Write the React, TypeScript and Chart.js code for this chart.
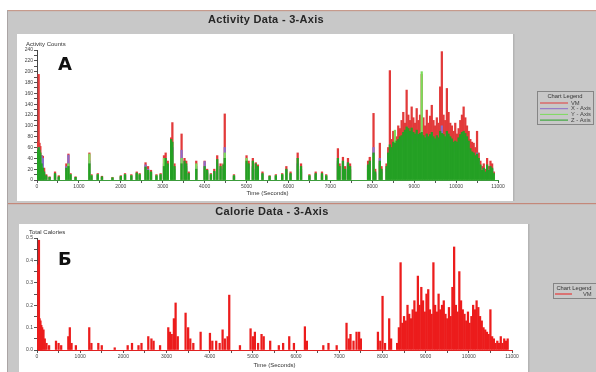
import { useEffect, useRef } from 'react';
import { Chart, registerables } from 'chart.js';

Chart.register(...registerables);

// ---------- Activity data (top chart) ----------
const activitySparseTimes = [20, 40, 60, 80, 110, 140, 170, 220, 300, 430, 520, 700, 750, 800, 920, 1250, 1300, 1450, 1550, 1800, 2000, 2100, 2250, 2380, 2450, 2590, 2650, 2720, 2850, 2950, 3030, 3070, 3120, 3200, 3230, 3280, 3450, 3520, 3560, 3620, 3800, 4000, 4060, 4150, 4230, 4300, 4380, 4450, 4480, 4700, 5000, 5050, 5150, 5220, 5270, 5380, 5550, 5700, 5850, 5950, 6050, 6220, 6300, 6500, 6650, 6800, 6900, 7180, 7220, 7300, 7350, 7420, 7470, 7900, 7940, 8030, 8070, 8180, 8220];
const vmSparse = [70, 195, 68, 62, 45, 44, 22, 10, 6, 15, 8, 30, 48, 12, 6, 50, 10, 12, 7, 5, 8, 12, 10, 15, 12, 32, 25, 18, 10, 12, 45, 50, 35, 78, 106, 30, 85, 40, 35, 15, 35, 35, 20, 12, 20, 45, 30, 30, 122, 10, 45, 35, 40, 32, 28, 15, 8, 10, 12, 25, 15, 50, 30, 10, 15, 15, 10, 58, 30, 42, 25, 40, 30, 35, 42, 123, 20, 68, 25];
const xSparse = [40, 60, 35, 30, 45, 40, 12, 6, 3, 8, 4, 25, 46, 8, 3, 35, 6, 8, 4, 3, 5, 8, 6, 10, 8, 28, 20, 12, 6, 8, 30, 35, 25, 50, 60, 20, 55, 30, 25, 10, 25, 34, 15, 8, 14, 30, 20, 20, 60, 6, 30, 25, 25, 20, 18, 10, 5, 6, 8, 18, 10, 30, 20, 6, 10, 10, 6, 35, 20, 30, 18, 28, 20, 25, 30, 60, 12, 40, 15];
const ySparse = [50, 45, 45, 40, 25, 20, 10, 6, 4, 10, 5, 15, 30, 10, 4, 48, 8, 10, 5, 4, 6, 10, 8, 12, 10, 20, 15, 14, 8, 10, 40, 30, 20, 40, 45, 18, 40, 20, 22, 8, 30, 20, 12, 10, 12, 25, 18, 18, 50, 8, 40, 20, 22, 18, 15, 8, 6, 8, 10, 15, 8, 25, 15, 8, 8, 8, 8, 30, 18, 25, 15, 22, 18, 20, 25, 45, 10, 30, 12];
const zSparse = [55, 60, 55, 50, 30, 22, 15, 8, 5, 12, 6, 22, 25, 10, 5, 30, 8, 10, 6, 4, 7, 10, 8, 13, 10, 24, 18, 15, 8, 10, 25, 40, 30, 75, 70, 25, 30, 35, 30, 12, 20, 25, 18, 10, 16, 38, 25, 28, 40, 8, 35, 30, 35, 30, 25, 12, 7, 8, 10, 20, 12, 40, 25, 8, 12, 12, 8, 40, 25, 35, 20, 32, 25, 28, 35, 50, 15, 35, 20];

const denseTimes = [8340, 8380, 8420, 8460, 8500, 8540, 8580, 8620, 8660, 8700, 8740, 8780, 8820, 8860, 8900, 8940, 8980, 9020, 9060, 9100, 9140, 9180, 9220, 9260, 9300, 9340, 9380, 9420, 9460, 9500, 9540, 9580, 9620, 9660, 9700, 9740, 9780, 9820, 9860, 9900, 9940, 9980, 10020, 10060, 10100, 10140, 10180, 10220, 10260, 10300, 10340, 10380, 10420, 10460, 10500, 10540, 10580, 10620, 10660, 10700, 10740, 10780, 10820, 10860, 10900];
const vmDense = [30, 60, 202, 75, 90, 85, 80, 100, 95, 110, 125, 105, 166, 120, 110, 135, 115, 105, 132, 110, 120, 195, 115, 100, 129, 105, 118, 138, 110, 100, 115, 105, 172, 237, 120, 110, 169, 125, 105, 100, 90, 105, 85, 95, 110, 120, 135, 115, 100, 90, 75, 70, 68, 60, 90, 50, 35, 25, 30, 20, 40, 25, 35, 30, 15];
const xDense = [20, 40, 55, 45, 55, 65, 55, 50, 70, 60, 80, 70, 85, 75, 70, 80, 75, 70, 85, 65, 75, 90, 70, 60, 80, 65, 70, 85, 70, 60, 75, 65, 85, 100, 75, 65, 85, 75, 65, 60, 55, 60, 55, 60, 70, 75, 85, 75, 65, 55, 50, 45, 45, 40, 50, 35, 25, 15, 20, 12, 25, 15, 20, 20, 10];
const yDense = [15, 35, 45, 50, 45, 92, 40, 55, 45, 55, 60, 55, 70, 60, 65, 60, 65, 55, 70, 60, 55, 200, 60, 55, 65, 55, 60, 65, 55, 50, 60, 55, 70, 80, 60, 55, 70, 60, 55, 50, 45, 50, 45, 50, 55, 60, 65, 60, 55, 50, 40, 35, 35, 30, 40, 28, 20, 12, 15, 10, 20, 12, 15, 15, 8];
const zDense = [25, 50, 65, 60, 70, 68, 72, 75, 80, 82, 88, 92, 98, 95, 90, 96, 88, 85, 92, 84, 86, 88, 82, 78, 85, 80, 84, 88, 80, 76, 82, 78, 90, 86, 84, 80, 90, 85, 80, 76, 70, 72, 70, 78, 84, 88, 90, 86, 80, 72, 58, 52, 50, 45, 48, 40, 28, 18, 22, 15, 28, 18, 25, 22, 12];

// ---------- Calorie data (bottom chart) ----------
const calorieSparseTimes = [20, 30, 45, 60, 80, 100, 120, 150, 180, 220, 280, 440, 500, 560, 725, 760, 800, 900, 1210, 1260, 1420, 1500, 1800, 2100, 2200, 2350, 2420, 2577, 2650, 2700, 2850, 3040, 3080, 3120, 3170, 3210, 3260, 3441, 3500, 3550, 3620, 3789, 4005, 4060, 4150, 4230, 4298, 4350, 4414, 4452, 4700, 4946, 5000, 5046, 5120, 5200, 5250, 5400, 5600, 5700, 5841, 5950, 6204, 6250, 6630, 6750, 6940, 7168, 7220, 7260, 7330, 7400, 7460, 7500, 7895, 7950, 8002, 8060, 8156, 8200];
const calorieSparse = [0.15, 0.38, 0.49, 0.14, 0.13, 0.11, 0.1, 0.09, 0.05, 0.03, 0.02, 0.04, 0.03, 0.02, 0.06, 0.1, 0.03, 0.02, 0.1, 0.03, 0.03, 0.02, 0.01, 0.02, 0.03, 0.02, 0.03, 0.06, 0.05, 0.04, 0.02, 0.1, 0.08, 0.07, 0.14, 0.21, 0.06, 0.165, 0.1, 0.05, 0.03, 0.08, 0.075, 0.04, 0.04, 0.03, 0.09, 0.05, 0.06, 0.245, 0.02, 0.095, 0.06, 0.08, 0.03, 0.07, 0.06, 0.04, 0.02, 0.03, 0.06, 0.03, 0.104, 0.04, 0.02, 0.03, 0.02, 0.12, 0.05, 0.07, 0.04, 0.08, 0.08, 0.05, 0.08, 0.04, 0.24, 0.03, 0.14, 0.05];
const calorieDense = [0.03, 0.1, 0.39, 0.12, 0.15, 0.13, 0.2, 0.16, 0.14, 0.18, 0.22, 0.17, 0.33, 0.2, 0.28, 0.22, 0.17, 0.25, 0.27, 0.18, 0.16, 0.39, 0.2, 0.17, 0.25, 0.18, 0.2, 0.22, 0.16, 0.14, 0.19, 0.15, 0.28, 0.46, 0.2, 0.17, 0.35, 0.22, 0.18, 0.16, 0.13, 0.17, 0.12, 0.15, 0.2, 0.18, 0.22, 0.19, 0.15, 0.13, 0.1, 0.09, 0.08, 0.07, 0.18, 0.06, 0.05, 0.03, 0.04, 0.03, 0.06, 0.03, 0.05, 0.04, 0.05];

const FONT = '"Liberation Sans", Arial, sans-serif';
const GRAY = '#c8c8c8';

const pts = (times: number[], values: number[]) => times.map((t, i) => ({ x: t, y: values[i] }));

const panelPlugin = {
  id: 'panel',
  beforeDraw(chart: any, _a: any, o: any) {
    const { ctx, width, height } = chart;
    ctx.save();
    ctx.fillStyle = '#ffffff';
    ctx.fillRect(0, 0, width, height);
    ctx.fillStyle = GRAY;
    ctx.fillRect(o.left, o.top, width - o.left, height - o.top);
    ctx.fillStyle = o.topBorder;
    ctx.fillRect(o.left, o.top, width - o.left, 1.2);
    ctx.fillStyle = '#aaa4a4';
    ctx.fillRect(o.left, o.top, 1, height - o.top);
    // title
    ctx.fillStyle = '#262626';
    ctx.font = `bold 11px ${FONT}`;
    ctx.textAlign = 'center';
    ctx.textBaseline = 'middle';
    (ctx as any).letterSpacing = '0.3px';
    ctx.fillText(o.title, o.titleX, o.titleY);
    (ctx as any).letterSpacing = '0px';
    // white plot panel
    ctx.fillStyle = '#ffffff';
    ctx.fillRect(o.box[0], o.box[1], o.box[2], o.box[3]);
    ctx.fillStyle = '#b4b4b4';
    ctx.fillRect(o.box[0] + o.box[2], o.box[1], 1.5, o.box[3]);
    // y-axis title (horizontal, above axis)
    ctx.fillStyle = '#333';
    ctx.font = `6px ${FONT}`;
    ctx.textAlign = 'left';
    ctx.fillText(o.yTitle, o.yTitleX, o.yTitleY);
    // panel letter
    ctx.fillStyle = '#111';
    ctx.font = 'bold 18px "DejaVu Sans", sans-serif';
    ctx.textBaseline = 'alphabetic';
    ctx.fillText(o.letter, o.letterX, o.letterY);
    ctx.restore();
  },
  afterDraw(chart: any, _a: any, o: any) {
    const { ctx } = chart;
    const L = o.legend;
    ctx.save();
    ctx.strokeStyle = '#858585';
    ctx.lineWidth = 1;
    ctx.strokeRect(L.x + 0.5, L.y + 0.5, L.w, L.h);
    ctx.fillStyle = '#333';
    ctx.font = `5.8px ${FONT}`;
    ctx.textAlign = 'center';
    ctx.textBaseline = 'middle';
    ctx.fillText('Chart Legend', L.titleX, L.y + 5);
    ctx.textAlign = 'left';
    chart.data.datasets.forEach((ds: any, i: number) => {
      const y = L.y + L.first + i * L.gap;
      ctx.strokeStyle = ds.backgroundColor;
      ctx.beginPath();
      ctx.moveTo(L.lineX0, y);
      ctx.lineTo(L.lineX1, y);
      ctx.stroke();
      ctx.fillStyle = '#444';
      ctx.fillText(ds.label, L.textX, y);
    });
    ctx.restore();
  },
};

function axisCommon() {
  return {
    grid: { drawOnChartArea: false, drawTicks: true, tickLength: 3, color: '#555', offset: false },
  };
}

export default function App() {
  const topRef = useRef<HTMLCanvasElement>(null);
  const botRef = useRef<HTMLCanvasElement>(null);

  useEffect(() => {
    const actTimes = activitySparseTimes.concat(denseTimes);
    const vm = vmSparse.concat(vmDense);
    const xa = xSparse.concat(xDense);
    const ya = ySparse.concat(yDense);
    const za = zSparse.concat(zDense);
    const calTimes = calorieSparseTimes.concat(denseTimes);
    const cal = calorieSparse.concat(calorieDense);

    const barOpts = { barThickness: 1.6, grouped: false, borderWidth: 0 };

    const top = new Chart(topRef.current!, {
      type: 'bar',
      data: {
        datasets: [
          { label: 'VM', data: pts(actTimes, vm), backgroundColor: '#e23a3a', order: 3, ...barOpts },
          { label: 'X - Axis', data: pts(actTimes, xa), backgroundColor: '#8c6cc8', order: 2, ...barOpts },
          { label: 'Y - Axis', data: pts(actTimes, ya), backgroundColor: '#7cdc5c', order: 1, ...barOpts },
          { label: 'Z - Axis', data: pts(actTimes, za), backgroundColor: '#24a024', order: 0, ...barOpts },
        ] as any,
      },
      options: {
        animation: false,
        responsive: false,
        layout: { padding: { left: 17, right: 98, top: 50, bottom: 2 } },
        plugins: {
          legend: { display: false },
          tooltip: { enabled: false },
          panel: {
            left: 7, top: 10, topBorder: '#c69a8c',
            title: 'Activity Data - 3-Axis', titleX: 266, titleY: 20,
            box: [17, 34, 496, 167],
            yTitle: 'Activity Counts', yTitleX: 26, yTitleY: 44,
            letter: 'А', letterX: 58, letterY: 70,
            legend: { x: 537, y: 91, w: 56, h: 33, titleX: 565, first: 12, gap: 5.7, lineX0: 540, lineX1: 568, textX: 571 },
          },
        } as any,
        scales: {
          x: {
            type: 'linear', min: 0, max: 11000, offset: false,
            ...axisCommon(),
            border: { display: true, color: '#3c9c3c', width: 1 },
            ticks: {
              stepSize: 500, autoSkip: false, maxRotation: 0, padding: 1, color: '#444',
              font: { family: FONT, size: 5 },
              callback: (v: any) => (Number(v) % 1000 === 0 ? String(v) : ''),
            },
            title: { display: true, text: 'Time (Seconds)', color: '#333', font: { family: FONT, size: 6 }, padding: { top: 0, bottom: 4 } },
            afterFit: (s: any) => { s.height = 21; },
          },
          y: {
            min: 0, max: 240,
            ...axisCommon(),
            border: { display: true, color: '#444', width: 1 },
            ticks: {
              stepSize: 10, autoSkip: false, padding: 1, color: '#444',
              font: { family: FONT, size: 5 },
              callback: (v: any) => (Number(v) % 20 === 0 ? String(v) : ''),
            },
            afterFit: (s: any) => { s.width = 20; },
          },
        } as any,
      },
      plugins: [panelPlugin as any],
    });

    const bot = new Chart(botRef.current!, {
      type: 'bar',
      data: {
        datasets: [
          { label: 'VM', data: pts(calTimes, cal), backgroundColor: '#ec1c1c', ...barOpts },
        ] as any,
      },
      options: {
        animation: false,
        responsive: false,
        layout: { padding: { left: 17, right: 84, top: 35, bottom: 0 } },
        plugins: {
          legend: { display: false },
          tooltip: { enabled: false },
          panel: {
            left: 7, top: 0, topBorder: '#c4887a',
            title: 'Calorie Data - 3-Axis', titleX: 272, titleY: 9,
            box: [19, 21, 509, 150],
            yTitle: 'Total Calories', yTitleX: 29, yTitleY: 29,
            letter: 'Б', letterX: 58, letterY: 62,
            legend: { x: 553, y: 80, w: 50, h: 15, titleX: 574, first: 11, gap: 6, lineX0: 555, lineX1: 572, textX: 583 },
          },
        } as any,
        scales: {
          x: {
            type: 'linear', min: 0, max: 11000, offset: false,
            ...axisCommon(),
            border: { display: true, color: '#e02020', width: 1 },
            ticks: {
              stepSize: 500, autoSkip: false, maxRotation: 0, padding: 1, color: '#444',
              font: { family: FONT, size: 5 },
              callback: (v: any) => (Number(v) % 1000 === 0 ? String(v) : ''),
            },
            title: { display: true, text: 'Time (Seconds)', color: '#333', font: { family: FONT, size: 6 }, padding: { top: 0, bottom: 3 } },
            afterFit: (s: any) => { s.height = 22; },
          },
          y: {
            min: 0, max: 0.5,
            ...axisCommon(),
            border: { display: true, color: '#444', width: 1 },
            ticks: {
              stepSize: 0.05, autoSkip: false, padding: 1, color: '#444',
              font: { family: FONT, size: 5 },
              callback: (v: any) => (Math.round(Number(v) * 100) % 10 === 0 ? Number(v).toFixed(1) : ''),
            },
            afterFit: (s: any) => { s.width = 20; },
          },
        } as any,
      },
      plugins: [panelPlugin as any],
    });

    return () => {
      top.destroy();
      bot.destroy();
    };
  }, []);

  return (
    <div style={{ position: 'fixed', left: 0, top: 0, width: 596, height: 372, overflow: 'hidden', background: '#fff' }}>
      <canvas ref={topRef} width={596} height={203} style={{ display: 'block', width: 596, height: 203 }} />
      <canvas ref={botRef} width={596} height={169} style={{ display: 'block', width: 596, height: 169 }} />
    </div>
  );
}
